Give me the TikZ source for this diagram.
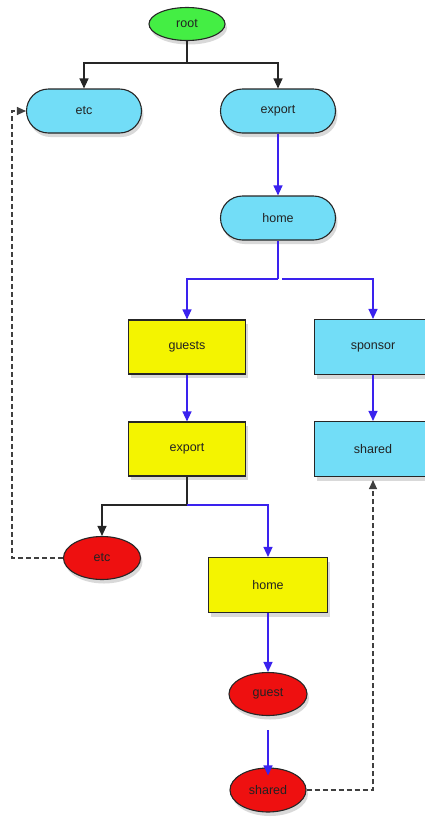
\documentclass[tikz,border=0pt]{standalone}
\usepackage{fontspec}
\setmainfont{Liberation Sans}
\usetikzlibrary{shapes.geometric,shapes.misc,arrows.meta,shadows}
\definecolor{ngreen}{HTML}{44EE44}
\definecolor{ncyan}{HTML}{72DDF7}
\definecolor{nyellow}{HTML}{F4F400}
\definecolor{nred}{HTML}{EE1010}
\definecolor{lblue}{HTML}{3A22EE}
\definecolor{ntext}{HTML}{222222}
\tikzset{
  base/.style={draw=black!85, line width=1.1pt, text=ntext, font=\fontsize{12.5}{14}\selectfont,
    drop shadow={opacity=0.25, fill=black!60, shadow xshift=2pt, shadow yshift=-4pt}, inner sep=0pt},
  pill/.style={base, rounded rectangle, fill=ncyan, minimum width=115pt, minimum height=44pt},
  ybox/.style={base, rectangle, fill=nyellow, minimum width=117pt, minimum height=54pt},
  cbox/.style={base, rectangle, fill=ncyan, minimum width=117pt, minimum height=55pt},
  rell/.style={base, ellipse, fill=nred, minimum width=77pt, minimum height=43pt},
  gell/.style={base, ellipse, fill=ngreen, minimum width=76pt, minimum height=33pt},
  blk/.style={draw=black!85, line width=1.1pt, -{Triangle[length=10pt,width=9pt]}},
  blu/.style={draw=lblue, line width=1.3pt, -{Triangle[length=10pt,width=9pt,fill=lblue]}},
  blun/.style={draw=lblue, line width=1.3pt},
  blkn/.style={draw=black!85, line width=1.1pt},
  dsh/.style={draw=black!75, line width=1.1pt, dash pattern=on 5pt off 3pt, -{Triangle[length=9pt,width=8pt]}}
}
\begin{document}
\begin{tikzpicture}[x=1pt,y=1pt]
\useasboundingbox (0,0) rectangle (425,-817);
\node[gell] (root) at (187,-24) {root};
\node[pill] (etc) at (84,-111) {etc};
\node[pill] (export) at (278,-111) {export};
\node[pill] (home) at (278,-218) {home};
\node[ybox] (guests) at (187,-347) {guests};
\node[cbox] (sponsor) at (373,-347) {sponsor};
\node[ybox] (export2) at (187,-449) {export};
\node[cbox] (shared) at (373,-449) {shared};
\node[rell] (etc2) at (102,-558) {etc};
\node[ybox, minimum width=119pt, minimum height=55pt] (home2) at (268,-585) {home};
\node[rell, minimum width=78pt] (guest) at (268,-694) {guest};
\node[rell, minimum width=76pt, minimum height=44pt] (shared2) at (268,-790) {shared};

\coordinate (j1) at (187,-63);
\coordinate (j2) at (278,-279);
\coordinate (j3) at (187,-505);
\coordinate (d1) at (12,-111);
\coordinate (d2) at (373,-790);

\draw[blkn] (root.south) -- (j1);
\draw[blk] (j1) -| (etc.north);
\draw[blk] (j1) -| (export.north);
\draw[blu] (export.south) -- (home.north);
\draw[blun] (home.south) -- (j2);
\draw[blu] (j2) -| (guests.north);
\draw[blu] ([xshift=4pt]j2) -| (sponsor.north);
\draw[blu] (guests.south) -- (export2.north);
\draw[blu] (sponsor.south) -- (shared.north);
\draw[blkn] (export2.south) -- (j3);
\draw[blk] (j3) -| (etc2.north);
\draw[blu] (j3) -| (home2.north);
\draw[blu] (home2.south) -- (guest.north);
\draw[blu, shorten <=14pt, shorten >=-8pt] (guest.south) -- (shared2.north);
\draw[dsh] (etc2.west) -| (d1) -- (etc.west);
\draw[dsh] (shared2.east) -- (d2) -- ([yshift=-3pt]shared.south);
\end{tikzpicture}
\end{document}
